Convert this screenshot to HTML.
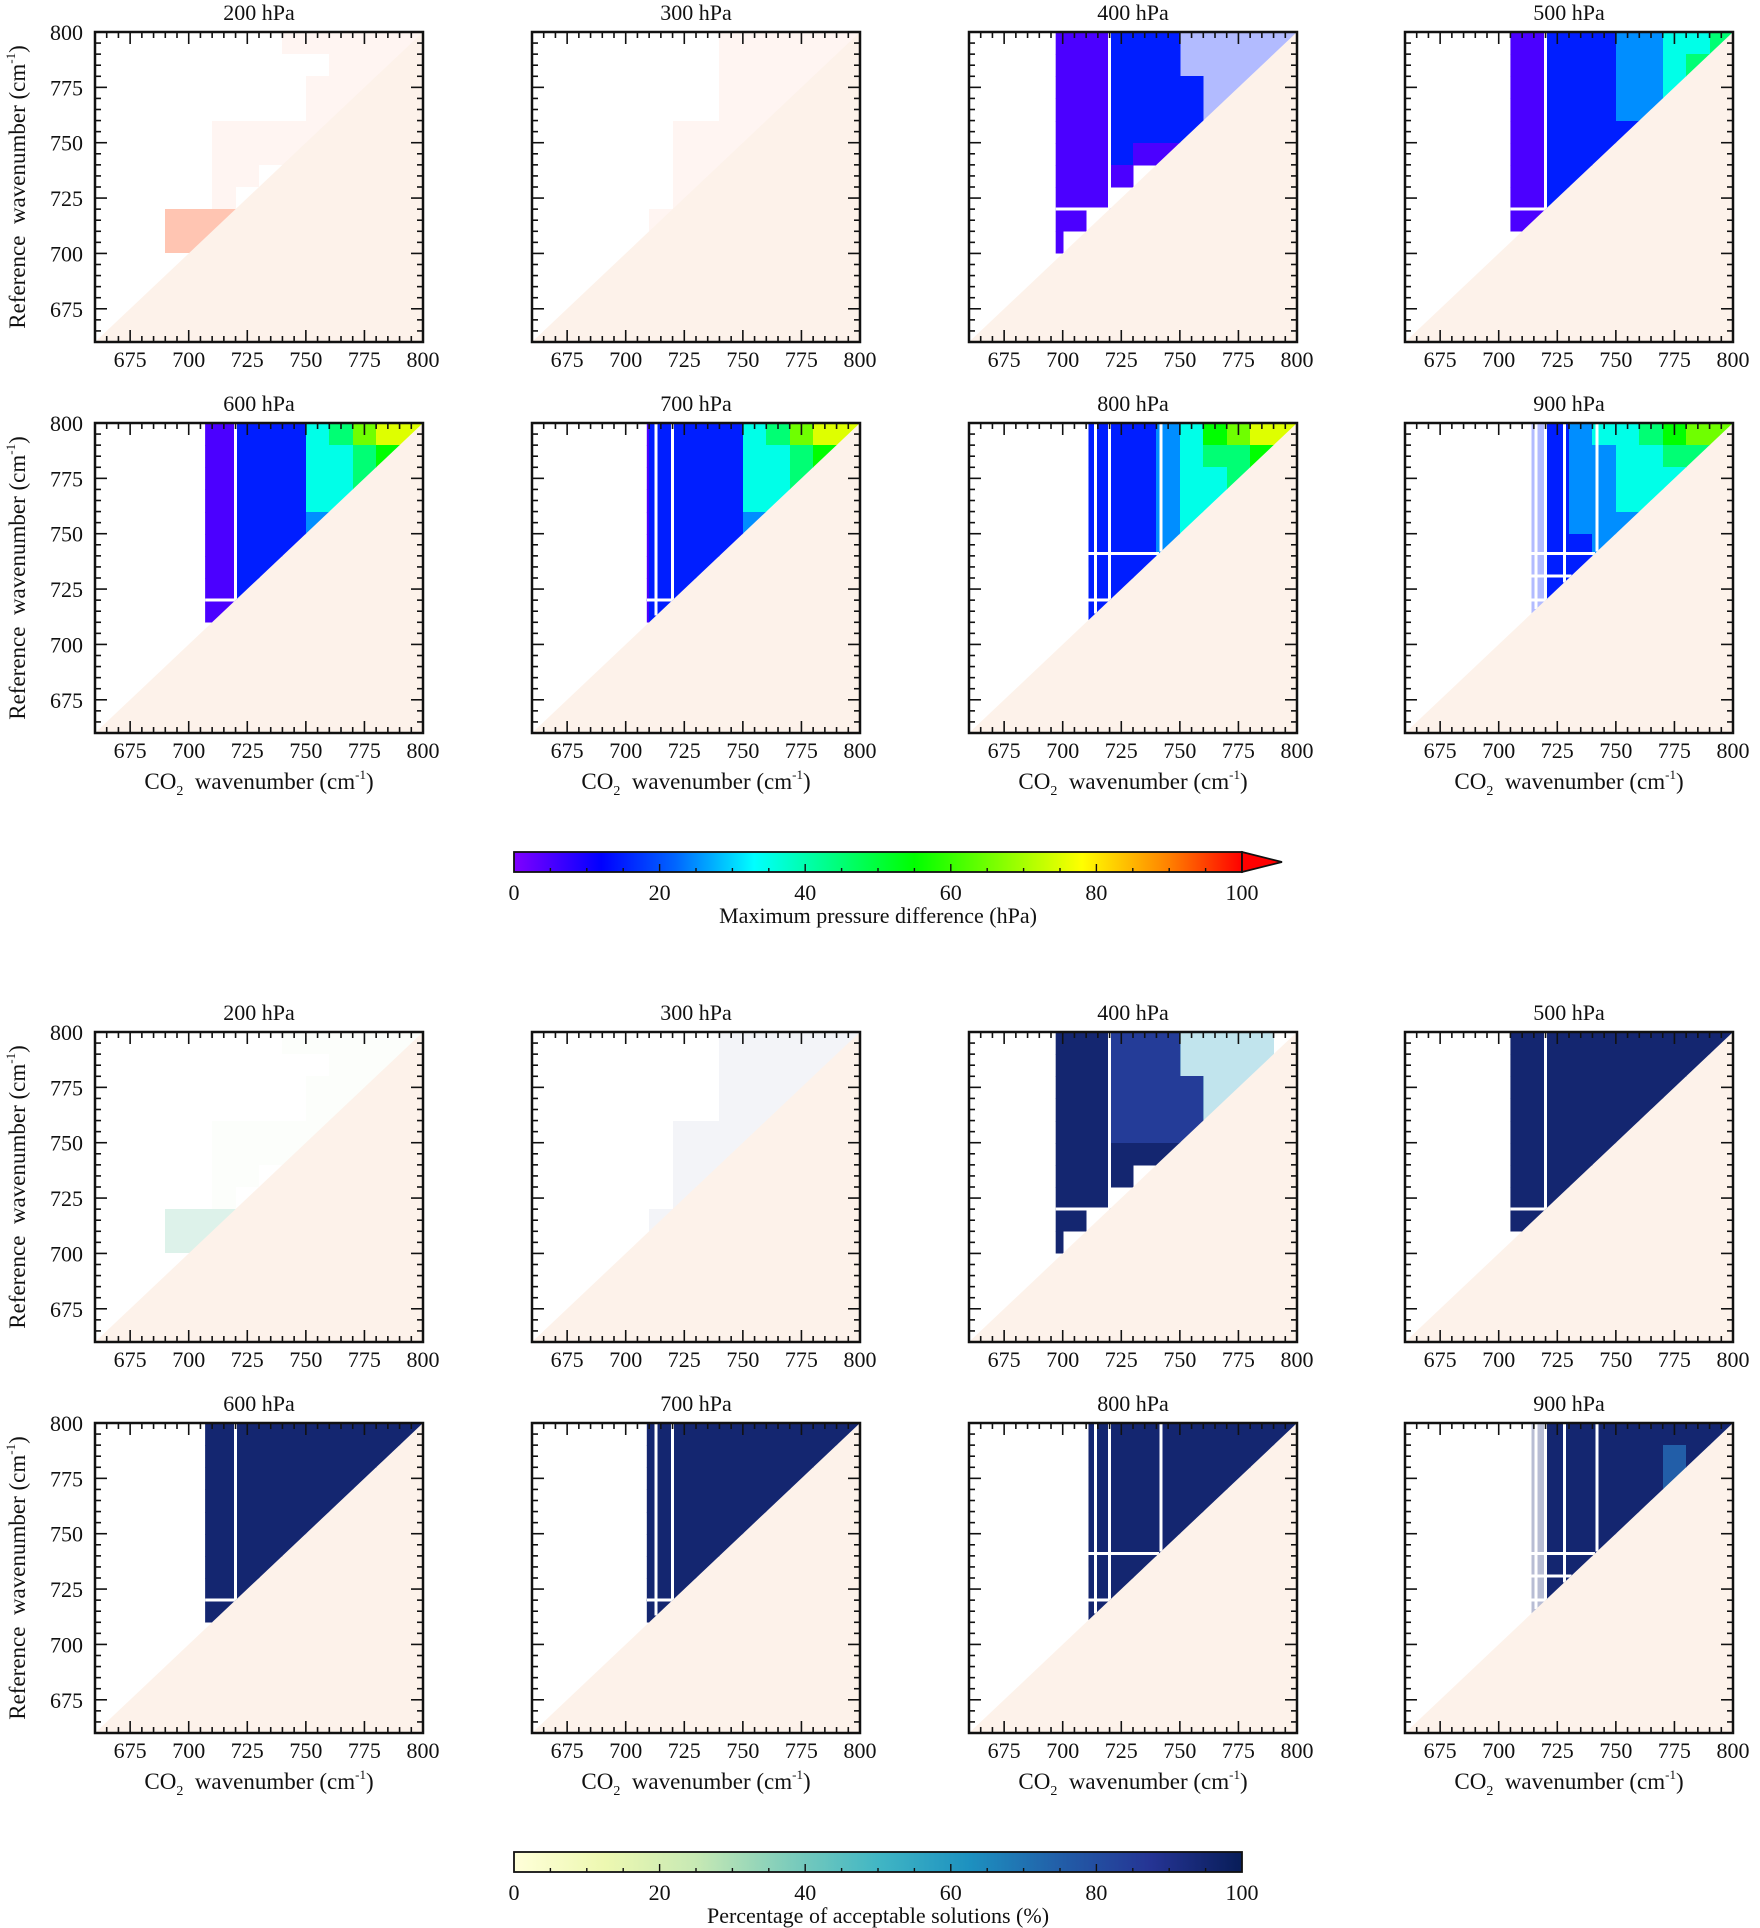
<!DOCTYPE html>
<html><head><meta charset="utf-8"><style>
html,body{margin:0;padding:0;background:#fff;}
svg{display:block;}
text{font-family:"Liberation Serif",serif;fill:#111;}
</style></head><body>
<svg id="fig" xmlns="http://www.w3.org/2000/svg" width="1760" height="1928" viewBox="0 0 1760 1928">
<defs id="defs"></defs>
</svg>
<script>
// ---- data ----
const levels = ['200','300','400','500','600','700','800','900'];
const xTicks = [675,700,725,750,775,800];
const yTicks = [675,700,725,750,775,800];
const cbTicks = [0,20,40,60,80,100];
// data start (CO2 wavenumber) per level
const xmin = [688, 700, 697, 705, 707, 709, 711, 714];
// white gap lines (vertical x positions / horizontal y positions)
const vGaps = [[],[],[720],[720],[720],[713,720],[714,720,742],[716,720,728,742]];
const hGaps = [[],[],[720],[720],[720],[720],[720,741],[720,731,741]];
// grids: 14 cols (660..800 step 10), rows top (800) to bottom
// '.' empty, '0'-'9' value decile, 'a'-'j' sparse, 'A'-'J' very sparse
const top200 = ["........JJJJJJ","..........JJJJ",".........JJJJ.",".........JJJ..",".....JJJJJ....",".....JJJJ.....",".....JJ.......",".....J........","...jjj........","...jjj........"];
const top300 = ["........JJJJJJ","........JJJJJJ","........JJJJJ.","........JJJJ..","......JJJJ....","......JJJ.....","......JJ......","......J.......",".....J........"];
const top400 = ["...000111bbbbb","...000111bbbbb","...0001111bbbb","...0001111bb..","...00011111...","...000100.....","...0000.......","...000........","...00.........","...0.........."];
const top500 = ["....0011122334","....0011122343","....0011122333","....001112233.","....00111122..","....0011111...","....00111.....","....001.......","....00........"];
const top600 = ["....0011134677","....0011133454","....0011133444","....001113344.","....00111233..","....0011122...","....001112....","....0011......","....00........"];
const top700 = ["....0111134677","....0111133454","....0111133444","....011113344.","....01111233..","....0111122...","....011112....","....0111......","....01........"];
const top800 = [".....111235677",".....111234454",".....111233444",".....11123344.",".....1112333..",".....11122....",".....1112.....",".....11.......",".....1........"];
const top900 = [".....b12334566",".....b12233443",".....b12233333",".....b1223333.",".....b122233..",".....b11223...",".....b1122....",".....b11......",".....b........"];
const bot200 = ["........CCCCCC","..........CCCC",".........CCCC.",".........CCC..",".....CCCCC....",".....CCCC.....",".....CC.......",".....C........","...ddd........","...ddd........"];
const bot300 = ["........JJJJJJ","........JJJJJJ","........JJJJJ.","........JJJJ..","......JJJJ....","......JJJ.....","......JJ......","......J.......",".....J........"];
const bot400 = ["...999888ffff","...999888ffff","...9998888fff","...9998888ff..","...99988889...","...999999.....","...9999.......","...999........","...99.........","...9.........."];
const bot500 = ["....9999999999","....9999999999","....9999999999","....999999999.","....99999999..","....9999999...","....99999.....","....999.......","....99........"];
const bot600 = ["....9999999999","....9999999999","....9999999999","....999999999.","....99999999..","....9999999...","....999999....","....9999......","....99........"];
const bot700 = ["....9999999999","....9999999999","....9999999999","....999999999.","....99999999..","....9999999...","....999999....","....9999......","....99........"];
const bot800 = [".....999999999",".....999999999",".....999999999",".....99999999.",".....9999999..",".....99999....",".....9999.....",".....99.......",".....9........"];
const bot900 = [".....j99999999",".....j99999799",".....j99999799",".....j9999999.",".....j999999..",".....j99999...",".....j9999....",".....j99......",".....j........"];
const topGrids = [top200,top300,top400,top500,top600,top700,top800,top900];
const botGrids = [bot200,bot300,bot400,bot500,bot600,bot700,bot800,bot900];

// ---- layout ----
const NS = 'http://www.w3.org/2000/svg';
const svg = document.getElementById('fig');
const defs = document.getElementById('defs');
const colLeft = [95,532,969,1405];
const PW = 328, PH = 310;
const rowTop = [32,423,1032,1423];
const V0 = 660, V1 = 800;

const rainbowStops = [[0,[128,0,255]],[12,[0,0,255]],[22,[0,100,255]],[33,[0,255,255]],[55,[0,255,0]],[78,[255,255,0]],[90,[255,128,0]],[100,[255,0,0]]];
const ygbStops = [[0,[255,255,217]],[12.5,[237,248,177]],[25,[199,233,180]],[37.5,[127,205,187]],[50,[65,182,196]],[62.5,[29,145,192]],[75,[34,94,168]],[87.5,[37,52,148]],[100,[8,29,88]]];
function cmap(stops,v){
  v=Math.max(0,Math.min(100,v));
  for(let k=1;k<stops.length;k++){
    if(v<=stops[k][0]){
      const a=stops[k-1],b=stops[k],t=(v-a[0])/(b[0]-a[0]);
      const c=a[1].map((x,i)=>Math.round(x+(b[1][i]-x)*t));
      return 'rgb('+c.join(',')+')';
    }
  }
  return 'rgb('+stops[stops.length-1][1].join(',')+')';
}
function el(tag,attrs,parent){
  const e=document.createElementNS(NS,tag);
  for(const k in attrs) e.setAttribute(k,attrs[k]);
  (parent||svg).appendChild(e);
  return e;
}
function decode(ch){
  if(ch>='0'&&ch<='9') return {v:(+ch)*10+5,o:1};
  if(ch>='a'&&ch<='j') return {v:(ch.charCodeAt(0)-97)*10+5,o:0.3};
  if(ch>='A'&&ch<='J') return {v:(ch.charCodeAt(0)-65)*10+5,o:0.05};
  return null;
}

function drawPanel(p, level, grid, stops, L, T, showY, showXTitle, idx){
  const X=v=>L+(v-V0)/(V1-V0)*PW;
  const Y=v=>T+PH-(v-V0)/(V1-V0)*PH;
  const g=el('g',{},svg);
  
  
  const tri=el('polygon',{points:`${X(V0)},${Y(V0)} ${X(V1)},${Y(V0)} ${X(V1)},${Y(V1)}`,fill:'#fdf2ea'},g);
  
  
  const cid='clip'+p+idx;
  const cp=el('clipPath',{id:cid},defs);
  const xm=xmin[idx];
  el('polygon',{points:`${X(xm)},${Y(xm)} ${X(xm)},${Y(V1)} ${X(V1)},${Y(V1)}`},cp);
  const cells=el('g',{'clip-path':`url(#${cid})`,'shape-rendering':'crispEdges'},g);
  
  
  grid.forEach((row,j)=>{
    for(let i=0;i<row.length;i++){
      const d=decode(row[i]); if(!d) continue;
      const x0=V0+10*i, y1=V1-10*j;
      const ov=d.o<1?0:0.6;
      const xa=Math.round(X(x0)), xb=Math.round(X(x0+10)), ya=Math.round(Y(y1)), yb=Math.round(Y(y1-10));
      const r=el('rect',{x:xa,y:ya,width:xb-xa+ov,height:yb-ya+ov,fill:cmap(stops,d.v),'fill-opacity':d.o},cells);
      
      
    }
  });
  vGaps[idx].forEach(v=>{
    const ln=el('line',{x1:X(v),x2:X(v),y1:Y(V1),y2:Y(v),stroke:'#fff','stroke-width':3},cells);
    
    
  });
  hGaps[idx].forEach(v=>{
    const ln=el('line',{x1:X(xm),x2:X(v),y1:Y(v),y2:Y(v),stroke:'#fff','stroke-width':3},cells);
    
    
  });
  const tk=el('g',{stroke:'#111','stroke-width':1.6},g);
  
  
  for(let v=V0+5;v<V1;v+=5){
    const len=(v%25===0)?12:6;
    el('line',{x1:X(v),x2:X(v),y1:Y(V0),y2:Y(V0)-len},tk);
    el('line',{x1:X(v),x2:X(v),y1:Y(V1),y2:Y(V1)+len},tk);
    el('line',{x1:X(V0),x2:X(V0)+len,y1:Y(v),y2:Y(v)},tk);
    el('line',{x1:X(V1),x2:X(V1)-len,y1:Y(v),y2:Y(v)},tk);
  }
  const fr=el('rect',{x:L,y:T,width:PW,height:PH,fill:'none',stroke:'#111','stroke-width':2.5},g);
  
  
  const tt=el('text',{x:L+PW/2,y:T-12,'text-anchor':'middle','font-size':22},g);
  tt.textContent=level+' hPa';
  
  
  xTicks.forEach(v=>{
    const t=el('text',{x:X(v),y:T+PH+25,'text-anchor':'middle','font-size':22},g);
    t.textContent=v;
    
    
  });
  if(showY){
    yTicks.forEach(v=>{
      const t=el('text',{x:L-12,y:Y(v)+8,'text-anchor':'end','font-size':22},g);
      t.textContent=v;
      
      
    });
    const yt=el('text',{x:0,y:0,'text-anchor':'middle','font-size':23,transform:`translate(25,${T+PH/2}) rotate(-90)`},g);
    yt.innerHTML='Reference&#160; wavenumber (cm<tspan font-size="13" dy="-10">-1</tspan><tspan dy="10">)</tspan>';
    
    
  }
  if(showXTitle){
    const xt=el('text',{x:L+PW/2,y:T+PH+56,'text-anchor':'middle','font-size':23},g);
    xt.innerHTML='CO<tspan font-size="14" dy="6">2</tspan><tspan dy="-6">&#160; wavenumber (cm</tspan><tspan font-size="13" dy="-10">-1</tspan><tspan dy="10">)</tspan>';
    
    
  }
}

levels.forEach((lv,k)=>{
  const c=k%4, r=Math.floor(k/4);
  drawPanel('top',lv,topGrids[k],rainbowStops,colLeft[c],rowTop[r],c===0,r===1,k);
  drawPanel('bottom',lv,botGrids[k],ygbStops,colLeft[c],rowTop[2+r],c===0,r===1,k);
});

function colorbar(name,stops,top,title,arrow){
  const L=514,R=1242,H=20;
  const g=el('g',{},svg);
  
  
  const gid='grad'+name;
  const lg=el('linearGradient',{id:gid,x1:0,x2:1,y1:0,y2:0},defs);
  stops.forEach(s=>el('stop',{offset:(s[0])+'%','stop-color':cmap(stops,s[0])},lg));
  const bar=el('rect',{x:L,y:top,width:R-L,height:H,fill:`url(#${gid})`,stroke:'#111','stroke-width':1.8},g);
  
  
  if(arrow){
    const a=el('polygon',{points:`${R},${top} ${R+40},${top+H/2} ${R},${top+H}`,fill:'#ff0000',stroke:'#111','stroke-width':1.8},g);
    
    
  }
  const X=v=>L+v/100*(R-L);
  for(let v=5;v<100;v+=5){
    el('line',{x1:X(v),x2:X(v),y1:top+H,y2:top+H-((v%20===0)?8:4),stroke:'#111','stroke-width':1.4},g);
  }
  cbTicks.forEach(v=>{
    const t=el('text',{x:X(v),y:top+H+28,'text-anchor':'middle','font-size':22},g);
    t.textContent=v;
    
    
  });
  const t=el('text',{x:(L+R)/2,y:top+H+51,'text-anchor':'middle','font-size':22},g);
  t.textContent=title;
  
  
}
colorbar('pressure-colorbar',rainbowStops,852,'Maximum pressure  difference (hPa)',true);
colorbar('percentage-colorbar',ygbStops,1852,'Percentage of acceptable solutions (%)',false);
</script>
</body></html>
